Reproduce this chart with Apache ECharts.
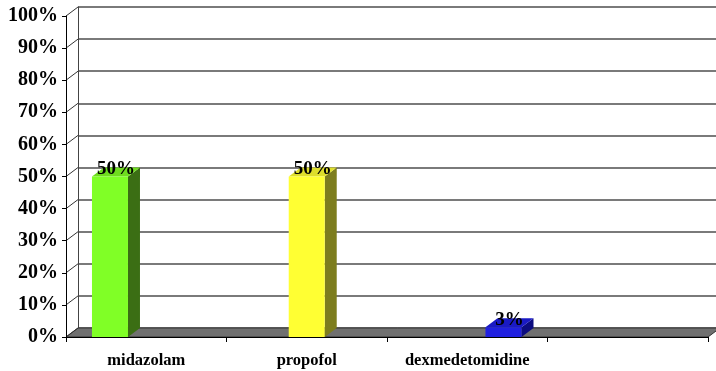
<!DOCTYPE html>
<html><head><meta charset="utf-8">
<script src="https://cdn.jsdelivr.net/npm/echarts@6/dist/echarts.min.js"></script>
<style>html,body{margin:0;padding:0;background:#fff}#c{width:716px;height:371px}</style>
</head><body><div id="c"></div>
<script>
// ---- data ----
var categories = ['midazolam', 'propofol', 'dexmedetomidine', ''];
var drugs = ['midazolam', 'propofol', 'dexmedetomidine'];
var percentValues = [50, 50, 3];
var yTicks = [0, 10, 20, 30, 40, 50, 60, 70, 80, 90, 100];

// ---- style ----
var DX = 12, DY = -9;           // 3D depth offset
var BAR_W = 36;
var barColors = [
  {front: '#80ff26', top: '#6fdc20', side: '#3b6e14'},
  {front: '#ffff33', top: '#dede2c', side: '#7d7d1e'},
  {front: '#2020e0', top: '#1a1ac4', side: '#0c0c80'}
];
var FONT = '"Liberation Serif","Times New Roman",serif';

var chart = echarts.init(document.getElementById('c'), null, {renderer: 'canvas'});

chart.setOption({
  animation: false,
  backgroundColor: '#fff',
  grid: [
    {left: 66, right: 8, top: 16, bottom: 34},          // front plane
    {left: 66 + DX, right: 0, top: 16 + DY, bottom: 34 - DY}, // back wall
    {left: 11.6, width: 590.25, top: 16, bottom: 34}     // bar placement
  ],
  xAxis: [
    {type: 'category', gridIndex: 0, data: categories, boundaryGap: true,
     axisLine: {show: true, lineStyle: {color: '#000', width: 1}},
     axisTick: {show: true, length: 5, interval: 0, lineStyle: {color: '#000'}},
     axisLabel: {interval: 0, hideOverlap: false, color: '#000', fontFamily: FONT, fontWeight: 'bold', fontSize: 16.5, margin: 15},
     splitLine: {show: false}, z: 5},
    {type: 'value', gridIndex: 1, min: 0, max: 1, show: false},
    {type: 'category', gridIndex: 2, data: drugs, show: false}
  ],
  yAxis: [
    {type: 'value', gridIndex: 0, min: 0, max: 100, interval: 10,
     axisLine: {show: true, lineStyle: {color: '#000', width: 1}},
     axisTick: {show: true, length: 4, lineStyle: {color: '#000'}},
     axisLabel: {formatter: '{value}%', color: '#000', fontFamily: FONT, fontWeight: 'bold', fontSize: 20, margin: 8},
     splitLine: {show: false}, z: 5},
    {type: 'value', gridIndex: 1, min: 0, max: 100, interval: 10,
     axisLine: {show: true, lineStyle: {color: '#444', width: 1}},
     axisTick: {show: false}, axisLabel: {show: false},
     splitLine: {show: true, lineStyle: {color: '#7a7a7a', width: 2}}},
    {type: 'value', gridIndex: 2, min: 0, max: 100, show: false}
  ],
  series: [
    // side wall diagonals + floor
    {
      type: 'custom', xAxisIndex: 0, yAxisIndex: 0, z: 1, silent: true,
      data: yTicks.map(function (v) { return [0, v]; }),
      renderItem: function (params, api) {
        var cs = params.coordSys;
        var v = api.value(1);
        var y = api.coord([0, v])[1];
        var x0 = cs.x;
        var children = [{
          type: 'line',
          shape: {x1: x0, y1: y, x2: x0 + DX, y2: y + DY},
          style: {stroke: '#333', lineWidth: 1}
        }];
        if (v === 0) {
          var x1 = cs.x + cs.width;
          children.unshift({
            type: 'polygon',
            shape: {points: [[x0, y], [x1, y], [x1 + DX, y + DY], [x0 + DX, y + DY]]},
            style: {fill: '#707070', stroke: '#333', lineWidth: 1}
          });
        }
        return {type: 'group', children: children};
      }
    },
    // 3D bars
    {
      type: 'custom', xAxisIndex: 2, yAxisIndex: 2, z: 10, silent: true,
      data: percentValues.map(function (v, i) { return [i, v]; }),
      renderItem: function (params, api) {
        var i = api.value(0), v = api.value(1);
        var top = api.coord([i, v]);
        var base = api.coord([i, 0]);
        var cx = top[0], yt = top[1], yb = base[1];
        var xl = cx - BAR_W / 2, xr = cx + BAR_W / 2;
        var c = barColors[i];
        return {type: 'group', children: [
          {type: 'polygon', shape: {points: [[xr, yt], [xr + DX, yt + DY], [xr + DX, yb + DY], [xr, yb]]},
           style: {fill: c.side}},
          {type: 'polygon', shape: {points: [[xl, yt], [xl + DX, yt + DY], [xr + DX, yt + DY], [xr, yt]]},
           style: {fill: c.top}},
          {type: 'rect', shape: {x: xl, y: yt, width: BAR_W, height: yb - yt},
           style: {fill: c.front}},
          {type: 'text', x: cx + DX / 2, y: yt - 7,
           style: {text: v + '%', fill: '#000', font: 'bold 19px ' + FONT, align: 'center', verticalAlign: 'middle'}}
        ]};
      }
    }
  ]
});
</script>
</body></html>
